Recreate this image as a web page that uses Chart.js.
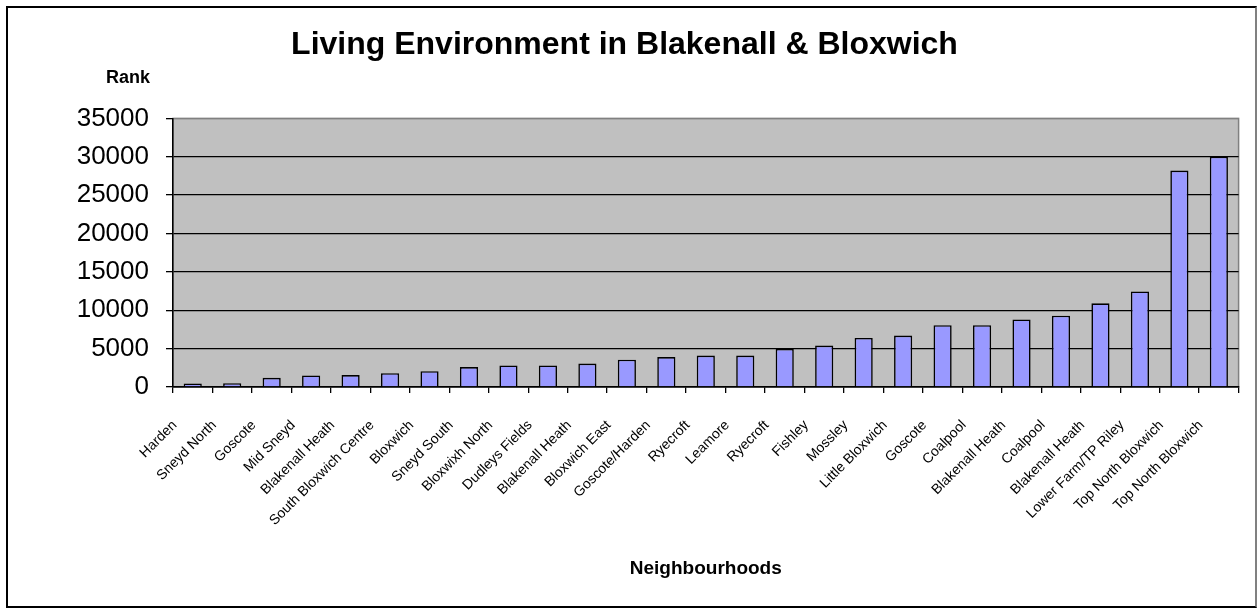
<!DOCTYPE html>
<html>
<head>
<meta charset="utf-8">
<title>Living Environment in Blakenall &amp; Bloxwich</title>
<script src="https://cdn.jsdelivr.net/npm/chart.js@4"></script>
<style>
    html, body { margin: 0; padding: 0; background: #ffffff; }
    .chart-frame {
        position: absolute;
        left: 6px;
        top: 6px;
        width: 1251px;
        height: 602px;
        box-sizing: border-box;
        border: 2px solid #000000;
        border-right: 2px solid #808080;
        background: #ffffff;
    }
    #rankChart { display: block; }
</style>
</head>
<body>
<div class="chart-frame">
    <canvas id="rankChart" width="1247" height="598"></canvas>
</div>
<script>
const chartTitle = 'Living Environment in Blakenall & Bloxwich';
const yAxisTitle = 'Rank';
const xAxisTitle = 'Neighbourhoods';

const neighbourhoods = [
    'Harden', 'Sneyd North', 'Goscote', 'Mid Sneyd', 'Blakenall Heath',
    'South Bloxwich Centre', 'Bloxwich', 'Sneyd South', 'Bloxwixh North',
    'Dudleys Fields', 'Blakenall Heath', 'Bloxwich East', 'Goscote/Harden',
    'Ryecroft', 'Leamore', 'Ryecroft', 'Fishley', 'Mossley', 'Little Bloxwich',
    'Goscote', 'Coalpool', 'Blakenall Heath', 'Coalpool', 'Blakenall Heath',
    'Lower Farm/TP Riley', 'Top North Bloxwich', 'Top North Bloxwich'
];

const rankValues = [
    450, 500, 1200, 1500, 1550, 1800, 2050, 2600, 2800, 2800, 3050, 3550,
    3900, 4100, 4100, 4950, 5400, 6400, 6700, 8050, 8050, 8800, 9300,
    10900, 12450, 28200, 30000
];

const rankMin = 0;
const rankMax = 35000;
const rankStep = 5000;

document.addEventListener('DOMContentLoaded', () => {
    const ctx = document.getElementById('rankChart').getContext('2d');
    const fontFamily = '"Liberation Sans", Arial, sans-serif';

    // grey plot area like the old spreadsheet chart, plus the "Rank" caption
    const plotBackground = {
        id: 'plotBackground',
        beforeDraw(chart) {
            const { ctx, chartArea: a } = chart;
            ctx.save();
            ctx.fillStyle = '#c0c0c0';
            ctx.fillRect(a.left, a.top, a.right - a.left, a.bottom - a.top);
            ctx.strokeStyle = '#808080';
            ctx.lineWidth = 1.5;
            ctx.strokeRect(a.left, a.top, a.right - a.left, a.bottom - a.top);
            ctx.restore();
        },
        afterDraw(chart) {
            const { ctx, chartArea: a } = chart;
            ctx.save();
            ctx.fillStyle = '#000000';
            ctx.font = 'bold 18px ' + fontFamily;
            ctx.textAlign = 'center';
            ctx.textBaseline = 'middle';
            ctx.fillText(yAxisTitle, a.left - 45, a.top - 40);
            ctx.restore();
        }
    };

    new Chart(ctx, {
        type: 'bar',
        data: {
            labels: neighbourhoods,
            datasets: [{
                label: yAxisTitle,
                data: rankValues,
                backgroundColor: '#9999ff',
                borderColor: '#000000',
                borderWidth: 1.6,
                barPercentage: 0.46,
                categoryPercentage: 1
            }]
        },
        options: {
            responsive: false,
            animation: false,
            layout: { padding: { left: 0, right: 14, top: 0, bottom: 0 } },
            plugins: {
                legend: { display: false },
                tooltip: { enabled: false },
                title: {
                    display: true,
                    text: chartTitle,
                    color: '#000000',
                    font: { family: fontFamily, size: 32, weight: 'bold' },
                    padding: { top: 18, bottom: 54 }
                }
            },
            scales: {
                x: {
                    afterFit: (scale) => { scale.height = 219; },
                    grid: {
                        offset: true,
                        drawOnChartArea: false,
                        drawTicks: true,
                        tickLength: 6,
                        tickColor: '#000000',
                        lineWidth: 1.3
                    },
                    border: { color: '#000000', width: 1.5 },
                    ticks: {
                        autoSkip: false,
                        minRotation: 45,
                        maxRotation: 45,
                        padding: 24,
                        labelOffset: -18,
                        color: '#000000',
                        font: { family: fontFamily, size: 14 }
                    },
                    title: {
                        display: true,
                        text: xAxisTitle,
                        color: '#000000',
                        font: { family: fontFamily, size: 19, weight: 'bold' },
                        padding: { top: 0, bottom: 26 }
                    }
                },
                y: {
                    min: rankMin,
                    max: rankMax,
                    afterFit: (scale) => { scale.width = 165; },
                    grid: {
                        color: (c) => (c.tick && c.tick.value === rankMax) ? '#808080' : '#000000',
                        lineWidth: 1.3,
                        drawTicks: true,
                        tickLength: 7,
                        tickColor: '#000000'
                    },
                    border: { color: '#000000', width: 1.5 },
                    ticks: {
                        stepSize: rankStep,
                        padding: 17,
                        color: '#000000',
                        font: { family: fontFamily, size: 26 },
                        callback: (value) => String(value)
                    }
                }
            }
        },
        plugins: [plotBackground]
    });
});
</script>
</body>
</html>
